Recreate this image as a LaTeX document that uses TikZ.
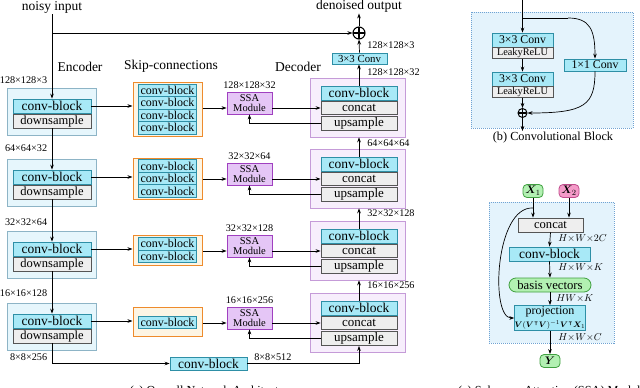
\documentclass[tikz,border=0pt]{standalone}
\usepackage{fontspec}
\setmainfont{Liberation Serif}
\usepackage{amsmath}
\usepackage{amssymb}
\usepackage{bm}
\usetikzlibrary{arrows.meta,positioning}

\definecolor{encfill}{HTML}{E6F6FC}
\definecolor{encdraw}{HTML}{8DB4C6}
\definecolor{cbfill}{HTML}{A8E9F7}
\definecolor{cbdraw}{HTML}{2E8FA6}
\definecolor{gfill}{HTML}{EEEEEE}
\definecolor{gdraw}{HTML}{555555}
\definecolor{skfill}{HTML}{FDF5E4}
\definecolor{skdraw}{HTML}{EE8B2C}
\definecolor{ssafill}{HTML}{E5C6F6}
\definecolor{ssadraw}{HTML}{A040C0}
\definecolor{decfill}{HTML}{F7EEFC}
\definecolor{decdraw}{HTML}{C59BD8}
\definecolor{pfill}{HTML}{E4F3FC}
\definecolor{pdraw}{HTML}{6FA3D3}
\definecolor{grfill}{HTML}{B2F0B2}
\definecolor{grdraw}{HTML}{40A040}
\definecolor{pkfill}{HTML}{F49AC8}
\definecolor{pkdraw}{HTML}{C04C8C}

\newcommand{\fbig}{\fontsize{13.5}{14}\selectfont}
\newcommand{\fmid}{\fontsize{12}{12}\selectfont}
\newcommand{\fsm}{\fontsize{10.2}{10.5}\selectfont}

\begin{document}
\begin{tikzpicture}[x=1pt,y=-1pt,>={Stealth[length=5pt,width=3.6pt]},line width=0.7pt,
  oplus/.style={draw, circle, inner sep=0pt, line width=1.1pt,
    path picture={\draw[line width=1.1pt] (path picture bounding box.north) -- (path picture bounding box.south)
      (path picture bounding box.west) -- (path picture bounding box.east);}}]
\useasboundingbox (0,0) rectangle (640,388);

% outer boxes
\begin{scope}[every node/.style={draw=encdraw, fill=encfill, line width=0.6pt, minimum width=89pt, minimum height=47pt, inner sep=0pt}]
  \node (enc1) at (51.5,111.5) {};
  \node (enc2) at (51.5,182.5) {};
  \node (enc3) at (51.5,254.5) {};
  \node (enc4) at (51.5,326.5) {};
\end{scope}
\begin{scope}[every node/.style={draw=decdraw, fill=decfill, line width=0.6pt, minimum width=95pt, minimum height=59pt, inner sep=0pt}]
  \node (dec1) at (357.5,107.5) {};
  \node (dec2) at (357.5,178.5) {};
  \node (dec3) at (357.5,250.5) {};
  \node (dec4) at (357.5,322.5) {};
\end{scope}
\begin{scope}[every node/.style={draw=skdraw, fill=skfill, line width=1pt, minimum width=69pt, inner sep=0pt}]
  \node[minimum height=54pt] (skip1) at (167.5,109) {};
  \node[minimum height=41pt] (skip2) at (167.5,178.5) {};
  \node[minimum height=30pt] (skip3) at (167.5,250) {};
  \node[minimum height=29pt] (skip4) at (167.5,322) {};
\end{scope}

% conv-blocks
\begin{scope}[every node/.style={draw=cbdraw, fill=cbfill, line width=0.8pt, minimum width=78pt, minimum height=14pt, inner sep=0pt, font=\fbig}]
  \node (ecb1) at (52,106) {conv-block};
  \node (ecb2) at (52,177) {conv-block};
  \node (ecb3) at (52,249) {conv-block};
  \node (ecb4) at (52,321) {conv-block};
  \node[minimum width=76pt] (dcb1) at (359,93) {conv-block};
  \node[minimum width=76pt] (dcb2) at (359,164) {conv-block};
  \node[minimum width=76pt] (dcb3) at (359,236) {conv-block};
  \node[minimum width=76pt] (dcb4) at (359,308) {conv-block};
  \node[minimum width=77pt, minimum height=13pt] (mid) at (208.5,363.5) {conv-block};
  \node[minimum width=55pt, minimum height=11pt, font=\fontsize{10.8}{11}\selectfont] (conv3) at (359.5,58.5) {3×3 Conv};
\end{scope}
\begin{scope}[every node/.style={draw=cbdraw, fill=cbfill, line width=0.7pt, minimum width=58pt, minimum height=12.5pt, inner sep=0pt, font=\fmid}]
  \node (sk11) at (167.5,90.25) {conv-block};
  \node (sk12) at (167.5,102.75) {conv-block};
  \node (sk13) at (167.5,115.25) {conv-block};
  \node (sk14) at (167.5,127.75) {conv-block};
  \node (sk21) at (167.5,166) {conv-block};
  \node (sk22) at (167.5,178.5) {conv-block};
  \node (sk23) at (167.5,191) {conv-block};
  \node (sk31) at (167.5,243.75) {conv-block};
  \node (sk32) at (167.5,256.25) {conv-block};
  \node (sk41) at (167.5,322.5) {conv-block};
\end{scope}

% gray blocks
\begin{scope}[every node/.style={draw=gdraw, fill=gfill, line width=0.8pt, minimum width=78pt, minimum height=14pt, inner sep=0pt, font=\fontsize{12.5}{13}\selectfont}]
  \node (ds1) at (52,121) {downsample};
  \node (ds2) at (52,192) {downsample};
  \node (ds3) at (52,264) {downsample};
  \node (ds4) at (52,336) {downsample};
\end{scope}
\begin{scope}[every node/.style={draw=gdraw, fill=gfill, line width=0.8pt, minimum width=76pt, minimum height=14pt, inner sep=0pt, font=\fontsize{13}{13}\selectfont}]
  \node[minimum height=13pt] (cat1) at (359,108) {concat};
  \node (up1) at (359,123.5) {upsample};
  \node[minimum height=13pt] (cat2) at (359,179) {concat};
  \node (up2) at (359,194.5) {upsample};
  \node[minimum height=13pt] (cat3) at (359,251) {concat};
  \node (up3) at (359,266.5) {upsample};
  \node[minimum height=13pt] (cat4) at (359,323) {concat};
  \node (up4) at (359,338.5) {upsample};
\end{scope}

% SSA modules
\begin{scope}[every node/.style={draw=ssadraw, fill=ssafill, line width=0.9pt, minimum width=45pt, minimum height=22pt, inner sep=0pt, align=center, font=\fontsize{10.5}{10.5}\selectfont}]
  \node (ssa1) at (249.5,103) {SSA\\Module};
  \node (ssa2) at (249.5,174) {SSA\\Module};
  \node (ssa3) at (249.5,246) {SSA\\Module};
  \node (ssa4) at (249.5,318) {SSA\\Module};
\end{scope}

\node[oplus, minimum size=12pt] (plus) at (359,33) {};

% texts
\begin{scope}[every node/.style={font=\fbig, inner sep=1pt}]
  \node (inp) at (52,7) {noisy input};
  \node (outp) at (359,6) {denoised output};
  \node (enctxt) at (80,67) {Encoder};
  \node (skiptxt) at (171,66) {Skip-connections};
  \node (dectxt) at (298,67) {Decoder};
\end{scope}
\begin{scope}[every node/.style={font=\fsm, inner sep=1pt}]
  \node[anchor=east] (d1) at (48.5,80) {128×128×3};
  \node[anchor=east] (d2) at (48.5,148) {64×64×32};
  \node[anchor=east] (d3) at (48.5,222) {32×32×64};
  \node[anchor=east] (d4) at (48.5,293) {16×16×128};
  \node[anchor=east] (d5) at (48.5,357) {8×8×256};
  \node[anchor=west] (d6) at (253,357) {8×8×512};
  \node[above=2pt of ssa1] (s1) {128×128×32};
  \node[above=2pt of ssa2] (s2) {32×32×64};
  \node[above=2pt of ssa3] (s3) {32×32×128};
  \node[above=2pt of ssa4] (s4) {16×16×256};
  \node[anchor=west] (u0) at (366,45) {128×128×3};
  \node[anchor=west] (u1) at (366,72) {128×128×32};
  \node[anchor=west] (u2) at (366,143) {64×64×64};
  \node[anchor=west] (u3) at (366,213) {32×32×128};
  \node[anchor=west] (u4) at (366,285) {16×16×256};
\end{scope}

\coordinate (br) at (52,33);
\draw[->] (inp.south) -- (ecb1.north);
\draw[->] (br) -- (plus.west);
\draw[->] (plus.north) -- (outp.south);
\draw[->] (conv3.north) -- (plus.south);
\draw[->] (dcb1.north) -- (dcb1.north |- conv3.south);
\draw[->] (ds1.south) -- (ecb2.north);
\draw[->] (ds2.south) -- (ecb3.north);
\draw[->] (ds3.south) -- (ecb4.north);
\draw[->] (ds4.south) |- (mid.west);
\draw[->] (mid.east) -| (up4.south);
\draw[->] (dcb2.north) -- (dcb2.north |- dec1.south);
\draw[->] (dcb3.north) -- (dcb3.north |- dec2.south);
\draw[->] (dcb4.north) -- (dcb4.north |- dec3.south);
\draw[->] (ecb1.east) -- (ecb1.east -| skip1.west);
\draw[->] (ecb2.east) -- (ecb2.east -| skip2.west);
\draw[->] (ecb3.east) -- (ecb3.east -| skip3.west);
\draw[->] (ecb4.east) -- (ecb4.east -| skip4.west);
\draw[->] (cat1.west -| skip1.east) -- (cat1.west -| ssa1.west);
\draw[->] (cat2.west -| skip2.east) -- (cat2.west -| ssa2.west);
\draw[->] (cat3.west -| skip3.east) -- (cat3.west -| ssa3.west);
\draw[->] (cat4.west -| skip4.east) -- (cat4.west -| ssa4.west);
\draw[->] (cat1.west -| ssa1.east) -- (cat1.west);
\draw[->] (cat2.west -| ssa2.east) -- (cat2.west);
\draw[->] (cat3.west -| ssa3.east) -- (cat3.west);
\draw[->] (cat4.west -| ssa4.east) -- (cat4.west);
\draw[->] (up1.west) -| (ssa1.south);
\draw[->] (up2.west) -| (ssa2.south);
\draw[->] (up3.west) -| (ssa3.south);
\draw[->] (up4.west) -| (ssa4.south);

% (b) convolutional block
\node[draw=pdraw, fill=pfill, line width=0.6pt, dash pattern=on 1pt off 1pt, minimum width=162pt, minimum height=116pt, inner sep=0pt] (bpanel) at (552,70) {};
\begin{scope}[every node/.style={draw=cbdraw, fill=cbfill, line width=0.8pt, minimum width=61pt, minimum height=14pt, inner sep=0pt, font=\fontsize{11.8}{12}\selectfont}]
  \node (bc1) at (522.5,40) {3×3 Conv};
  \node (bc2) at (522.5,79) {3×3 Conv};
  \node[minimum width=62pt, minimum height=12pt] (c11) at (595,65) {1×1 Conv};
\end{scope}
\begin{scope}[every node/.style={draw=gdraw, fill=gfill, line width=0.8pt, minimum width=61pt, minimum height=11pt, inner sep=0pt, font=\fontsize{10.3}{11}\selectfont}]
  \node (br1) at (522.5,53) {LeakyReLU};
  \node (br2) at (522.5,92) {LeakyReLU};
\end{scope}
\node[oplus, minimum size=9pt, line width=1pt] (bplus) at (522.5,113) {};
\node[font=\fontsize{12.3}{13}\selectfont, inner sep=1pt] (bcap) at (553,138) {(b) Convolutional Block};
\coordinate (bin) at (522.5,0);
\coordinate (bbr) at (522.5,18);
\coordinate (bk) at (568,18);
\coordinate (bout) at (522.5,131);
\draw[->] (bin) -- (bc1.north);
\draw (bbr) -- (bk);
\draw[->] (bk) .. controls (590,18) and (595,30) .. (c11.north);
\draw[->] (br1.south) -- (bc2.north);
\draw[->] (br2.south) -- (bplus.north);
\draw[->] (c11.south) .. controls (595,105) and (585,113) .. (bplus.east);
\draw[->] (bplus.south) -- (bout);

% (c) SSA module
\node[draw=pdraw, fill=pfill, line width=0.6pt, dash pattern=on 1pt off 1pt, minimum width=125pt, minimum height=141pt, inner sep=0pt] (cpanel) at (551.5,272.5) {};
\begin{scope}[every node/.style={line width=0.8pt, minimum width=20pt, minimum height=13pt, inner sep=0pt, rounded corners=4pt, font=\fontsize{11}{11}\selectfont}]
  \node[draw=grdraw, fill=grfill] (x1) at (533,191) {$\boldsymbol{X}_1$};
  \node[draw=pkdraw, fill=pkfill] (x2) at (569,191) {$\boldsymbol{X}_2$};
  \node[draw=grdraw, fill=grfill] (yout) at (550,361) {$\boldsymbol{Y}$};
  \node[draw=grdraw, fill=grfill, minimum width=82pt, minimum height=14pt, rounded corners=7pt, font=\fontsize{12.7}{13}\selectfont] (basis) at (550,285) {basis vectors};
\end{scope}
\node[draw=gdraw, fill=gfill, line width=0.8pt, minimum width=65pt, minimum height=14pt, inner sep=0pt, font=\fontsize{12.6}{13}\selectfont] (ccat) at (550.5,225) {concat};
\node[draw=cbdraw, fill=cbfill, line width=0.8pt, minimum width=81pt, minimum height=14pt, inner sep=0pt, font=\fbig] (ccb) at (549.5,254) {conv-block};
\node[draw=cbdraw, fill=cbfill, line width=0.8pt, minimum width=68pt, minimum height=25pt, inner sep=0pt, align=center, font=\fontsize{12}{12.5}\selectfont] (proj) at (550,318) {projection\\{\fontsize{8.2}{9}\selectfont$\boldsymbol{V}(\boldsymbol{V}^{\intercal}\boldsymbol{V})^{-1}\boldsymbol{V}^{\intercal}\boldsymbol{X}_1$}};
\begin{scope}[every node/.style={anchor=west, inner sep=1pt, font=\fontsize{10}{10}\selectfont}]
  \node (h1) at (557,238) {$H{\times}W{\times}2C$};
  \node (h2) at (557,267) {$H{\times}W{\times}K$};
  \node (h3) at (555,298) {$HW{\times}K$};
  \node (h4) at (557,337) {$H{\times}W{\times}C$};
\end{scope}
\coordinate (xbr) at (533,208);
\draw[->] (x1.south) -- (x1.south |- ccat.north);
\draw[->] (x2.south) -- (x2.south |- ccat.north);
\draw[->] (ccat.south) -- (ccb.north);
\draw[->] (ccb.south) -- (basis.north);
\draw[->] (basis.south) -- (proj.north);
\draw[->] (proj.south) -- (yout.north);
\draw[->] (xbr) .. controls (495,206) and (490,318) .. (proj.west);

% captions
\node[anchor=north, font=\fontsize{12.3}{13}\selectfont, inner sep=0pt] (acap) at (212,385.5) {(a) Overall Network Architecture};
\node[anchor=north, font=\fontsize{12.3}{13}\selectfont, inner sep=0pt] (ccap) at (552,385.5) {(c) Subspace Attention (SSA) Module};
\end{tikzpicture}
\end{document}
